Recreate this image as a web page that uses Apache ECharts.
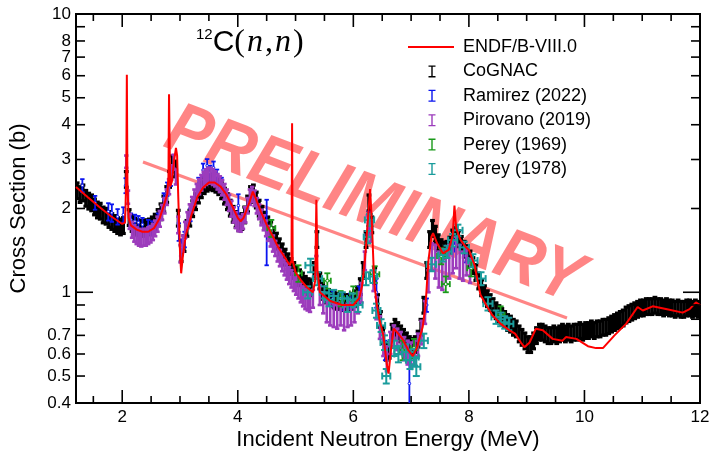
<!DOCTYPE html>
<html>
<head>
<meta charset="utf-8">
<script src="https://cdn.jsdelivr.net/npm/echarts@6/dist/echarts.min.js"></script>
<style>
  html, body { margin: 0; padding: 0; background: #fff; }
  #chart { width: 712px; height: 451px; }
</style>
</head>
<body>
<div id="chart"></div>
<script>
// ---- Axis ticks and labels ----
const xMajorTicks = [2, 4, 6, 8, 10, 12];
const xMinorTicks = [1.5, 2.5, 3, 3.5, 4.5, 5, 5.5, 6.5, 7, 7.5, 8.5, 9, 9.5, 10.5, 11, 11.5];
const xTickLabels = [2, 4, 6, 8, 10, 12];
const yMajorTicks = [1, 10];
const yMinorTicks = [0.5, 0.6, 0.7, 0.8, 0.9, 2, 3, 4, 5, 6, 7, 8, 9];
const yTickLabels = [0.4, 0.5, 0.6, 0.7, 1, 2, 3, 4, 5, 6, 7, 8, 10];

// ---- Evaluated cross section: [energy MeV, sigma b] ----
const endf = [
  [1.2,2.39],[1.4,2.2],[1.6,2.03],[1.8,1.88],[2.0,1.76],[2.05,1.78],[2.07,2.6],[2.08,6.05],[2.09,2.5],[2.11,1.85],
  [2.15,1.74],[2.25,1.68],[2.35,1.65],[2.45,1.65],[2.55,1.70],[2.65,1.85],[2.72,2.05],[2.78,2.25],[2.80,2.6],[2.81,5.15],
  [2.83,2.4],[2.86,2.5],[2.9,3.0],[2.93,3.3],[2.95,3.1],[2.97,2.2],[3.0,1.4],[3.02,1.17],[3.05,1.35],[3.1,1.6],
  [3.2,1.9],[3.3,2.2],[3.4,2.38],[3.5,2.48],[3.6,2.48],[3.7,2.4],[3.8,2.25],[3.9,2.05],[4.0,1.85],[4.05,1.8],
  [4.1,1.85],[4.2,2.1],[4.26,2.3],[4.3,2.2],[4.4,1.95],[4.5,1.75],[4.6,1.6],[4.7,1.45],[4.8,1.35],[4.9,1.25],
  [4.93,1.3],[4.94,4.05],[4.95,1.3],[5.0,1.18],[5.1,1.1],[5.2,1.04],[5.3,1.0],[5.34,1.1],[5.36,2.15],[5.38,1.2],
  [5.42,1.0],[5.5,0.97],[5.6,0.93],[5.8,0.9],[6.0,0.9],[6.1,0.95],[6.15,1.05],[6.2,1.3],[6.25,1.8],[6.29,2.35],
  [6.32,1.8],[6.36,1.1],[6.4,0.92],[6.45,0.8],[6.52,0.7],[6.58,0.55],[6.61,0.51],[6.65,0.62],[6.7,0.74],[6.75,0.72],
  [6.85,0.68],[6.95,0.62],[7.03,0.59],[7.1,0.63],[7.2,0.75],[7.25,0.9],[7.3,1.3],[7.35,1.58],[7.38,1.63],[7.45,1.5],
  [7.55,1.38],[7.65,1.42],[7.72,1.6],[7.75,2.05],[7.78,1.7],[7.85,1.55],[7.95,1.45],[8.0,1.42],[8.1,1.25],[8.15,1.1],
  [8.2,0.98],[8.3,0.9],[8.4,0.83],[8.55,0.77],[8.7,0.73],[8.8,0.71],[8.9,0.66],[8.96,0.635],[9.05,0.66],[9.16,0.74],
  [9.28,0.73],[9.45,0.68],[9.62,0.67],[9.68,0.69],[9.86,0.68],[10.06,0.64],[10.2,0.63],[10.32,0.63],[10.52,0.70],[10.72,0.77],
  [10.92,0.885],[11.01,0.86],[11.18,0.89],[11.41,0.87],[11.7,0.845],[11.82,0.87],[11.93,0.92],[12.0,0.90]
];

// ---- CoGNAC: [energy, sigma]; relative uncertainty below ----
const cognac = [
  [1.22,2.32],[1.27,2.25],[1.32,2.28],[1.37,2.18],[1.42,2.13],[1.47,2.10],[1.52,2.03],[1.57,1.98],[1.62,1.96],[1.67,1.90],
  [1.72,1.88],[1.77,1.83],[1.82,1.80],[1.87,1.77],[1.92,1.74],[1.97,1.72],[2.02,1.74],[2.07,2.55],[2.12,1.86],[2.17,1.77],
  [2.22,1.73],[2.27,1.71],[2.32,1.70],[2.37,1.70],[2.42,1.71],[2.47,1.72],[2.52,1.75],[2.57,1.79],[2.62,1.86],[2.67,1.95],
  [2.72,2.08],[2.77,2.25],[2.82,2.55],[2.87,2.90],[2.92,2.78],[2.97,1.85],[3.02,1.38],[3.07,1.50],[3.12,1.70],[3.17,1.85],
  [3.22,2.00],[3.27,2.12],[3.32,2.24],[3.37,2.34],[3.42,2.42],[3.47,2.47],[3.52,2.50],[3.57,2.48],[3.62,2.45],[3.67,2.40],
  [3.72,2.32],[3.77,2.22],[3.82,2.12],[3.87,2.01],[3.92,1.91],[3.97,1.83],[4.02,1.78],[4.07,1.80],[4.12,1.90],[4.17,2.08],
  [4.22,2.25],[4.27,2.28],[4.32,2.15],[4.37,2.01],[4.42,1.91],[4.47,1.82],[4.52,1.75],[4.57,1.68],[4.62,1.60],[4.67,1.53],
  [4.72,1.46],[4.77,1.40],[4.82,1.34],[4.87,1.29],[4.92,1.24],[4.97,1.20],[5.02,1.16],[5.07,1.13],[5.12,1.10],[5.17,1.07],
  [5.22,1.05],[5.27,1.04],[5.32,1.20],[5.37,1.55],[5.42,1.10],[5.47,1.01],[5.52,0.98],[5.57,0.96],[5.62,0.95],[5.67,0.94],
  [5.72,0.93],[5.77,0.93],[5.82,0.92],[5.87,0.92],[5.92,0.92],[5.97,0.93],[6.02,0.95],[6.07,0.98],[6.12,1.05],[6.17,1.20],
  [6.22,1.55],[6.27,2.10],[6.32,1.75],[6.37,1.15],[6.42,0.92],[6.47,0.80],[6.52,0.70],[6.57,0.61],[6.62,0.62],[6.67,0.72],
  [6.72,0.75],[6.77,0.73],[6.82,0.71],[6.87,0.69],[6.92,0.67],[6.97,0.65],[7.02,0.64],[7.07,0.65],[7.12,0.68],[7.17,0.75],
  [7.22,0.90],[7.27,1.20],[7.32,1.55],[7.37,1.70],[7.42,1.62],[7.47,1.51],[7.52,1.45],[7.57,1.42],[7.62,1.43],[7.67,1.48],
  [7.72,1.57],[7.77,1.60],[7.82,1.56],[7.87,1.49],[7.92,1.43],[7.97,1.38],[8.02,1.32],[8.07,1.25],[8.12,1.18],[8.17,1.10],
  [8.22,1.04],[8.27,0.99],[8.32,0.95],[8.37,0.92],[8.42,0.89],[8.47,0.86],[8.52,0.84],[8.57,0.82],[8.62,0.80],[8.67,0.78],
  [8.72,0.77],[8.77,0.75],[8.82,0.74],[8.87,0.71],[8.92,0.69],[8.97,0.67],[9.02,0.65],[9.07,0.65],[9.12,0.67],[9.17,0.70],
  [9.22,0.72],[9.27,0.72],[9.32,0.71],[9.37,0.70],[9.42,0.70],[9.47,0.71],[9.52,0.70],[9.57,0.71],[9.62,0.72],[9.67,0.71],
  [9.72,0.72],[9.77,0.71],[9.82,0.72],[9.87,0.72],[9.92,0.73],[9.97,0.72],[10.02,0.73],[10.07,0.73],[10.12,0.74],[10.17,0.73],
  [10.22,0.74],[10.27,0.74],[10.32,0.75],[10.37,0.75],[10.42,0.76],[10.47,0.77],[10.52,0.78],[10.57,0.79],[10.62,0.80],[10.67,0.81],
  [10.72,0.83],[10.77,0.84],[10.82,0.85],[10.87,0.86],[10.92,0.87],[10.97,0.88],[11.02,0.88],[11.07,0.89],[11.12,0.89],[11.17,0.89],
  [11.22,0.90],[11.27,0.89],[11.32,0.89],[11.37,0.88],[11.42,0.89],[11.47,0.88],[11.52,0.88],[11.57,0.87],[11.62,0.88],[11.67,0.87],
  [11.72,0.87],[11.77,0.88],[11.82,0.88],[11.87,0.87],[11.92,0.88],[11.97,0.87]
];
const cognacRelErr = 0.065;

// ---- Ramirez (2022): [energy, sigma, dSigma] ----
const ramirez = [
  [1.31,2.42,0.13],[1.53,2.10,0.12],[1.76,1.95,0.14],[1.82,1.93,0.14],[1.92,1.87,0.12],[2.02,1.90,0.12],[2.06,2.42,0.15],
  [2.15,1.82,0.10],[2.22,1.80,0.10],[2.28,1.78,0.10],[2.35,1.75,0.10],[2.45,1.72,0.10],[2.52,1.70,0.10],[2.62,1.82,0.10],
  [2.72,2.15,0.12],[2.78,2.35,0.13],[2.84,2.55,0.14],[2.98,1.65,0.12],[3.02,1.45,0.10],[3.08,1.55,0.10],[3.18,1.90,0.10],
  [3.32,2.45,0.13],[3.40,2.75,0.15],[3.47,2.85,0.16],[3.52,2.70,0.15],[3.58,2.80,0.15],[3.64,2.62,0.14],[3.72,2.45,0.13],
  [4.01,2.05,0.20],[4.50,1.70,0.45],[5.65,0.95,0.06],[5.80,0.92,0.06],[5.95,0.93,0.06],[6.10,0.98,0.07],[6.27,1.80,0.15],
  [6.40,1.00,0.12],[6.55,0.62,0.05],[6.97,0.47,0.09],[7.27,0.90,0.05],[7.75,1.47,0.07],[7.95,1.35,0.07]
];

// ---- Pirovano (2019): [energy, sigma, dSigma] ----
const pirovano = [
  [2.07,2.95,0.15],[2.10,2.20,0.12],[2.13,1.80,0.11],[2.17,1.68,0.11],[2.21,1.63,0.11],[2.25,1.60,0.11],[2.29,1.58,0.11],
  [2.33,1.57,0.11],[2.37,1.58,0.11],[2.41,1.58,0.11],[2.45,1.60,0.11],[2.49,1.62,0.11],[2.53,1.65,0.11],[2.57,1.70,0.11],
  [2.61,1.76,0.11],[2.65,1.84,0.12],[2.69,1.94,0.12],[2.73,2.05,0.13],[2.77,2.20,0.14],[2.81,2.40,0.15],[2.85,2.70,0.16],
  [2.89,2.95,0.17],[2.93,2.60,0.16],[2.97,1.75,0.12],[3.01,1.38,0.10],[3.05,1.50,0.10],[3.09,1.68,0.11],[3.13,1.82,0.12],
  [3.17,1.95,0.12],[3.21,2.07,0.13],[3.25,2.20,0.14],[3.29,2.30,0.15],[3.33,2.40,0.15],[3.37,2.48,0.16],[3.41,2.55,0.16],
  [3.45,2.60,0.17],[3.49,2.63,0.17],[3.53,2.63,0.17],[3.57,2.60,0.17],[3.61,2.56,0.16],[3.65,2.50,0.16],[3.69,2.45,0.16],
  [3.73,2.38,0.15],[3.77,2.30,0.15],[3.81,2.20,0.14],[3.85,2.10,0.14],[3.89,2.00,0.13],[3.93,1.90,0.12],[3.97,1.82,0.12],
  [4.01,1.77,0.11],[4.05,1.76,0.11],[4.09,1.80,0.11],[4.13,1.90,0.12],[4.17,2.05,0.13],[4.21,2.20,0.14],[4.25,2.25,0.14],
  [4.29,2.18,0.14],[4.33,2.05,0.13],[4.37,1.95,0.12],[4.41,1.86,0.12],[4.45,1.78,0.11],[4.49,1.70,0.11],[4.53,1.63,0.10],
  [4.57,1.56,0.10],[4.61,1.50,0.10],[4.65,1.44,0.09],[4.69,1.38,0.09],[4.73,1.33,0.09],[4.77,1.28,0.09],[4.81,1.23,0.08],
  [4.85,1.19,0.08],[4.89,1.15,0.08],[4.93,1.12,0.08],[4.97,1.09,0.08],[5.01,1.06,0.08],[5.05,1.03,0.08],[5.09,1.00,0.08],
  [5.13,0.97,0.08],[5.17,0.95,0.08],[5.21,0.94,0.08],[5.25,0.93,0.08],[5.30,0.95,0.07],[5.36,1.25,0.10],[5.42,0.98,0.08],
  [5.48,0.92,0.08],[5.54,0.86,0.08],[5.60,0.84,0.08],[5.66,0.83,0.08],[5.72,0.82,0.08],[5.78,0.84,0.08],[5.84,0.81,0.08],
  [5.90,0.83,0.08],[5.96,0.84,0.08],[6.02,0.86,0.08],[6.08,0.92,0.08],[6.14,1.00,0.08],[6.20,1.30,0.10],[6.25,1.75,0.14],
  [6.30,1.65,0.13],[6.35,1.10,0.09],[6.40,0.88,0.08],[6.46,0.75,0.07],[6.52,0.65,0.06],[6.58,0.58,0.06],[6.64,0.66,0.06],
  [6.70,0.70,0.06],[6.76,0.68,0.06],[6.82,0.66,0.06],[6.88,0.63,0.06],[6.94,0.61,0.06],[7.00,0.60,0.06],[7.06,0.61,0.06],
  [7.12,0.65,0.06],[7.18,0.72,0.07],[7.24,0.85,0.08],[7.30,1.10,0.10],[7.36,1.35,0.15],[7.42,1.30,0.18],[7.48,1.22,0.18],
  [7.54,1.20,0.18],[7.60,1.25,0.18],[7.66,1.30,0.18],[7.72,1.35,0.18],[7.78,1.40,0.18],[7.84,1.30,0.18],[7.90,1.25,0.15],
  [7.96,1.30,0.15],[8.02,1.20,0.12]
];

// ---- Perey (1969): [energy, sigma, dSigma, dEnergy] ----
const perey1969 = [
  [4.58,1.70,0.12,0.07],[5.05,1.17,0.08,0.06],[5.55,1.10,0.07,0.06],[5.78,0.95,0.06,0.06],[6.00,0.99,0.06,0.06],
  [6.37,1.16,0.08,0.08],[6.85,0.62,0.05,0.06],[7.05,0.63,0.05,0.06],[7.52,1.35,0.09,0.07],[7.60,1.07,0.07,0.07],
  [8.04,1.22,0.08,0.07],[8.55,0.83,0.06,0.07]
];

// ---- Perey (1978): [energy, sigma, dSigma, dEnergy] ----
const perey1978 = [
  [5.21,1.00,0.05,0.08],[5.26,1.25,0.07,0.09],[5.38,1.12,0.06,0.08],[5.50,1.00,0.05,0.08],[5.58,0.94,0.05,0.08],
  [5.66,0.97,0.05,0.08],[5.81,0.95,0.05,0.08],[5.90,0.90,0.05,0.08],[5.99,0.94,0.05,0.08],[6.08,0.90,0.05,0.08],
  [6.22,1.12,0.06,0.07],[6.25,1.58,0.08,0.07],[6.28,1.82,0.09,0.08],[6.34,1.14,0.06,0.07],[6.40,0.86,0.05,0.07],
  [6.48,0.76,0.04,0.07],[6.54,0.66,0.04,0.07],[6.57,0.50,0.03,0.07],[6.71,0.63,0.04,0.07],[6.78,0.60,0.04,0.07],
  [6.91,0.61,0.04,0.07],[6.98,0.57,0.04,0.07],[7.06,0.585,0.04,0.07],[7.09,0.54,0.04,0.07],[7.22,0.67,0.04,0.07],
  [7.35,1.26,0.07,0.08],[7.55,1.36,0.07,0.08],[7.62,1.40,0.07,0.08],[7.72,1.54,0.08,0.08],[7.81,1.67,0.08,0.08],
  [7.92,1.45,0.07,0.08],[8.07,1.30,0.07,0.08],[8.21,1.12,0.06,0.08],[8.33,0.91,0.05,0.08],[8.47,0.815,0.045,0.08],
  [8.55,0.80,0.045,0.08],[8.62,0.78,0.04,0.08],[8.69,0.77,0.04,0.08]
];

const FONT = '"Liberation Sans", Arial, sans-serif';
const SERIF = '"Liberation Serif", "Times New Roman", serif';
const COLORS = {
  endf: '#ff0000', cognac: '#000000', ramirez: '#0a14f0',
  pirovano: '#9c3cbc', perey69: '#1a9a1a', perey78: '#1a9c9c'
};

// Error-bar series drawn with a custom renderer: vertical bar with caps,
// optional horizontal bar and a small open marker.
function errorBarSeries(name, rows, color, cfg) {
  return {
    name: name,
    type: 'custom',
    coordinateSystem: 'cartesian2d',
    clip: true,
    z: cfg.z,
    silent: true,
    itemStyle: { color: color },
    encode: { x: 0, y: 1 },
    data: rows,
    renderItem: function (params, api) {
      const e = api.value(0), s = api.value(1), ds = api.value(2);
      const de = rows[params.dataIndex][3] || 0;
      const c = api.coord([e, s]);
      const top = api.coord([e, s + ds]);
      const bot = api.coord([e, Math.max(s - ds, 0.05)]);
      const st = { stroke: color, lineWidth: cfg.lw };
      const cw = cfg.cap;
      const ch = [
        { type: 'line', shape: { x1: c[0], y1: top[1], x2: c[0], y2: bot[1] }, style: st },
        { type: 'line', shape: { x1: c[0] - cw, y1: top[1], x2: c[0] + cw, y2: top[1] }, style: st },
        { type: 'line', shape: { x1: c[0] - cw, y1: bot[1], x2: c[0] + cw, y2: bot[1] }, style: st }
      ];
      if (de > 0) {
        const l = api.coord([e - de, s]), r = api.coord([e + de, s]);
        ch.push({ type: 'line', shape: { x1: l[0], y1: c[1], x2: r[0], y2: c[1] }, style: st });
        ch.push({ type: 'line', shape: { x1: l[0], y1: c[1] - cw, x2: l[0], y2: c[1] + cw }, style: st });
        ch.push({ type: 'line', shape: { x1: r[0], y1: c[1] - cw, x2: r[0], y2: c[1] + cw }, style: st });
      }
      if (cfg.marker) {
        ch.push({ type: 'circle', shape: { cx: c[0], cy: c[1], r: cfg.marker },
          style: { fill: '#fff', stroke: color, lineWidth: 1 } });
      }
      return { type: 'group', children: ch };
    }
  };
}

const cognacRows = cognac.map(p => [p[0], p[1], p[1] * cognacRelErr]);

// Legend glyphs (50 x 14 box)
const ICON_BOX = 'M0,0M50,14';
const ICON_LINE = 'path://' + ICON_BOX + 'M0,6.1L46,6.1L46,7.9L0,7.9Z';
const ICON_BAR = 'path://' + ICON_BOX +
  'M20.5,1L27.5,1L27.5,2.3L24.7,2.3L24.7,11.7L27.5,11.7L27.5,13L20.5,13L20.5,11.7L23.3,11.7L23.3,2.3L20.5,2.3Z';

// Frame ticks and tick labels, positioned through the axes
const frameSeries = {
  type: 'custom',
  coordinateSystem: 'cartesian2d',
  silent: true,
  clip: false,
  z: 30,
  data: [[2, 1]],
  renderItem: function (params, api) {
    const cs = params.coordSys;
    const x0 = cs.x, x1 = cs.x + cs.width, y0 = cs.y, y1 = cs.y + cs.height;
    const ch = [];
    const L = (a, b, c, d) => ch.push({ type: 'line', shape: { x1: a, y1: b, x2: c, y2: d },
      style: { stroke: '#000', lineWidth: 1.6 } });
    xMajorTicks.forEach(v => { const px = api.coord([v, 1])[0]; L(px, y1, px, y1 - 13); L(px, y0, px, y0 + 13); });
    xMinorTicks.forEach(v => { const px = api.coord([v, 1])[0]; L(px, y1, px, y1 - 7); L(px, y0, px, y0 + 7); });
    yMajorTicks.forEach(v => { const py = api.coord([2, v])[1]; L(x0, py, x0 + 17, py); L(x1, py, x1 - 17, py); });
    yMinorTicks.forEach(v => { const py = api.coord([2, v])[1]; L(x0, py, x0 + 9, py); L(x1, py, x1 - 9, py); });
    xTickLabels.forEach(v => {
      const px = api.coord([v, 1])[0];
      ch.push({ type: 'text', style: { text: String(v), x: px, y: y1 + 6, align: 'center', verticalAlign: 'top',
        font: '17px ' + FONT, fill: '#000' } });
    });
    yTickLabels.forEach(v => {
      const py = api.coord([2, v])[1];
      ch.push({ type: 'text', style: { text: String(v), x: x0 - 5, y: py, align: 'right', verticalAlign: 'middle',
        font: '17px ' + FONT, fill: '#000' } });
    });
    return { type: 'group', children: ch };
  }
};

const chart = echarts.init(document.getElementById('chart'), null, { renderer: 'canvas' });
chart.setOption({
  animation: false,
  backgroundColor: '#fff',
  grid: { left: 76, right: 12, top: 14, bottom: 48, show: true, borderColor: '#000', borderWidth: 2,
    backgroundColor: 'transparent', outerBoundsMode: 'none' },
  xAxis: {
    type: 'value', min: 1.2, max: 12,
    axisLine: { show: false }, axisTick: { show: false }, axisLabel: { show: false }, splitLine: { show: false },
    name: 'Incident Neutron Energy (MeV)', nameLocation: 'middle', nameGap: 26,
    nameTextStyle: { fontFamily: FONT, fontSize: 22, color: '#000' }
  },
  yAxis: {
    type: 'log', logBase: 10, min: 0.4, max: 10,
    axisLine: { show: false }, axisTick: { show: false }, axisLabel: { show: false }, splitLine: { show: false },
    name: 'Cross Section (b)', nameLocation: 'middle', nameGap: 46,
    nameTextStyle: { fontFamily: FONT, fontSize: 22, color: '#000' }
  },
  legend: {
    orient: 'vertical', left: 408, top: 38, itemWidth: 50, itemHeight: 14, itemGap: 6.4, padding: 0,
    selectedMode: false,
    itemStyle: { borderWidth: 0 },
    textStyle: { fontFamily: FONT, fontSize: 18, color: '#000' },
    data: [
      { name: 'ENDF/B-VIII.0', icon: ICON_LINE },
      { name: 'CoGNAC', icon: ICON_BAR },
      { name: 'Ramirez (2022)', icon: ICON_BAR },
      { name: 'Pirovano (2019)', icon: ICON_BAR },
      { name: 'Perey (1969)', icon: ICON_BAR },
      { name: 'Perey (1978)', icon: ICON_BAR }
    ]
  },
  graphic: [
    { type: 'text', x: 374, y: 206, rotation: -21 * Math.PI / 180, scaleY: 1.12, z: 0, silent: true,
      style: { text: 'PRELIMINARY', font: 'italic bold 64px ' + FONT, fill: 'rgba(255,0,0,0.48)',
        align: 'center', verticalAlign: 'middle' } },
    { type: 'line', z: 0, silent: true, shape: { x1: 143, y1: 162, x2: 567, y2: 318 },
      style: { stroke: 'rgba(255,0,0,0.48)', lineWidth: 3 } },
    { type: 'text', left: 196, top: 27, z: 40, silent: true,
      style: {
        text: '{s|12}{c|C}{p|(}{i|n}{p|,}{i|n}{p|)}',
        rich: {
          s: { fontFamily: FONT, fontSize: 15, verticalAlign: 'top', fill: '#000', padding: [0, 0, 14, 0] },
          c: { fontFamily: FONT, fontSize: 30, fill: '#000' },
          p: { fontFamily: SERIF, fontSize: 32, fill: '#000' },
          i: { fontFamily: SERIF, fontStyle: 'italic', fontSize: 32, fill: '#000', padding: [0, 2, 0, 2] }
        }
      } }
  ],
  series: [
    errorBarSeries('CoGNAC', cognacRows, COLORS.cognac, { z: 3, lw: 3.2, cap: 2.4 }),
    errorBarSeries('Ramirez (2022)', ramirez, COLORS.ramirez, { z: 4, lw: 1.8, cap: 2.2, marker: 1.3 }),
    errorBarSeries('Pirovano (2019)', pirovano, COLORS.pirovano, { z: 5, lw: 2.6, cap: 2.2 }),
    errorBarSeries('Perey (1969)', perey1969, COLORS.perey69, { z: 6, lw: 1.8, cap: 3, marker: 1.5 }),
    errorBarSeries('Perey (1978)', perey1978, COLORS.perey78, { z: 7, lw: 2, cap: 3.5 }),
    {
      name: 'ENDF/B-VIII.0', type: 'line', data: endf, showSymbol: false, symbol: 'none', clip: true, z: 10,
      silent: true, color: COLORS.endf, lineStyle: { color: COLORS.endf, width: 2 }
    },
    frameSeries
  ]
});
</script>
</body>
</html>
